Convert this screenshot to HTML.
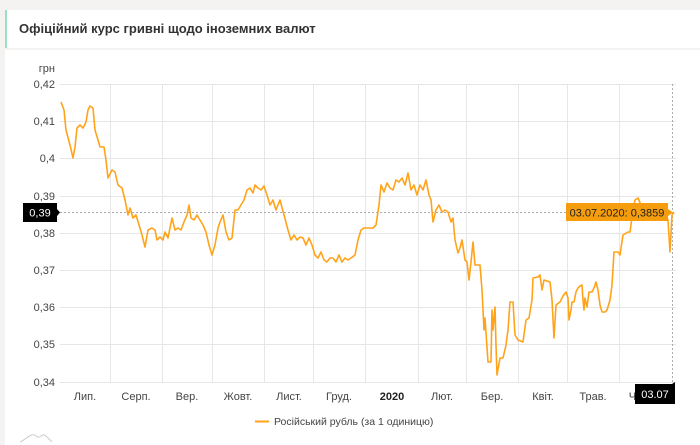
<!DOCTYPE html>
<html><head><meta charset="utf-8"><style>
body{margin:0;width:700px;height:445px;background:#f4f3f2;font-family:"Liberation Sans",sans-serif;overflow:hidden;position:relative}
.hdr{position:absolute;left:5px;top:10px;width:695px;height:38px;background:#fff;border-left:2px solid #9edcc4;box-sizing:border-box}
.hdr span{position:absolute;left:12px;top:11px;font-size:13px;font-weight:bold;color:#333}
.panel{position:absolute;left:5px;top:50px;width:695px;height:395px;background:#fff}
</style></head><body>
<div class="hdr"><span>Офіційний курс гривні щодо іноземних валют</span></div>
<div class="panel"></div>
<svg width="700" height="445" style="position:absolute;left:0;top:0" font-family="Liberation Sans, sans-serif">
<g stroke="#e6e6e6" stroke-width="1">
<line x1="60" x2="676" y1="84.5" y2="84.5"/><line x1="60" x2="676" y1="121.5" y2="121.5"/><line x1="60" x2="676" y1="158.5" y2="158.5"/><line x1="60" x2="676" y1="196.5" y2="196.5"/><line x1="60" x2="676" y1="233.5" y2="233.5"/><line x1="60" x2="676" y1="270.5" y2="270.5"/><line x1="60" x2="676" y1="307.5" y2="307.5"/><line x1="60" x2="676" y1="344.5" y2="344.5"/><line x1="60" x2="676" y1="382.5" y2="382.5"/>
<line x1="110.5" x2="110.5" y1="84" y2="382"/><line x1="162.5" x2="162.5" y1="84" y2="382"/><line x1="212.5" x2="212.5" y1="84" y2="382"/><line x1="264.5" x2="264.5" y1="84" y2="382"/><line x1="313.5" x2="313.5" y1="84" y2="382"/><line x1="365.5" x2="365.5" y1="84" y2="382"/><line x1="418.5" x2="418.5" y1="84" y2="382"/><line x1="466.5" x2="466.5" y1="84" y2="382"/><line x1="518.5" x2="518.5" y1="84" y2="382"/><line x1="567.5" x2="567.5" y1="84" y2="382"/><line x1="619.5" x2="619.5" y1="84" y2="382"/>
</g>
<g font-size="11" fill="#444" text-anchor="end">
<text x="55" y="72">грн</text>
<text x="55" y="88">0,42</text><text x="55" y="125">0,41</text><text x="55" y="162">0,4</text><text x="55" y="200">0,39</text><text x="55" y="237">0,38</text><text x="55" y="274">0,37</text><text x="55" y="311">0,36</text><text x="55" y="348">0,35</text><text x="55" y="386">0,34</text>
</g>
<g font-size="11" fill="#444" text-anchor="middle">
<text x="85" y="400">Лип.</text><text x="136" y="400">Серп.</text><text x="187" y="400">Вер.</text><text x="238" y="400">Жовт.</text><text x="289" y="400">Лист.</text><text x="339" y="400">Груд.</text><text x="392" y="400" font-weight="bold" fill="#222">2020</text><text x="442" y="400">Лют.</text><text x="492" y="400">Бер.</text><text x="543" y="400">Квіт.</text><text x="593" y="400">Трав.</text><text x="643" y="400">Черв.</text>
</g>
<line x1="60" x2="672" y1="212.5" y2="212.5" stroke="#aaa" stroke-dasharray="2,2"/>
<line x1="672.5" x2="672.5" y1="84" y2="384" stroke="#aaa" stroke-dasharray="2,2"/>
<polyline fill="none" stroke="#ffa31a" stroke-width="1.6" stroke-linejoin="round" points="61,102 64,110 66,130 70,145 73,158 75,147 77,128 80,125 83,128 86,122 88,110 90,106 93,108 95,130 98,140 100,147 104,147 106,160 108,178 112,170 115,172 118,185 122,188 125,200 128,215 130,208 133,218 136,215 139,225 142,235 145,247 148,230 152,228 155,230 157,240 160,237 163,240 165,232 168,238 170,228 172,218 175,230 178,228 181,230 184,222 187,215 189,205 191,218 194,220 197,215 200,220 203,225 206,232 209,245 212,255 215,245 218,228 220,222 223,215 226,232 229,240 232,238 235,210 238,210 241,205 244,200 247,190 250,188 253,193 255,185 258,188 261,190 264,186 267,195 270,205 273,200 276,210 280,200 284,215 288,230 291,240 294,235 297,240 300,237 303,238 306,245 309,238 312,245 315,255 318,258 321,252 324,260 327,262 330,258 333,258 336,262 339,255 342,262 345,258 348,260 351,258 355,255 358,240 361,230 364,228 367,228 370,228 373,228 376,225 379,205 381,185 384,192 387,183 390,188 393,190 396,180 399,182 402,178 405,185 408,173 411,190 414,185 417,195 420,185 423,190 426,180 429,195 431,200 433,222 436,210 439,205 442,212 445,210 448,212 451,222 453,218 455,240 458,253 460,248 462,240 465,260 467,262 469,280 471,262 473,242 475,265 480,265 482,290 484,330 485,318 486,333 488,362 491,362 492,310 493,330 495,307 496,345 497,375 500,358 503,358 506,345 508,330 510,302 513,302 515,335 518,340 523,342 526,320 529,318 532,300 533,278 538,277 540,275 542,290 544,280 550,282 552,300 554,338 556,305 560,302 563,296 566,292 568,298 569,320 571,310 572,302 574,302 576,292 578,288 580,286 582,285 583,300 584,310 585,298 587,307 589,292 592,292 594,288 596,282 598,290 600,305 602,312 605,312 607,310 610,300 612,285 614,252 618,252 620,255 623,235 628,232 630,232 633,210 635,200 638,198 641,205 645,212 650,215 655,212 660,212 665,212 668,220 670,252 672,215 674,212"/>
<path d="M23,203 H57 V209 L60,212.5 L57,216 V222 H23 Z" fill="#000"/>
<text x="40" y="216.5" font-size="11" fill="#fff" text-anchor="middle">0,39</text>
<path d="M566,203 H668 V209 L673,212.5 L668,216 V221 H566 Z" fill="#f59d0c"/>
<text x="617" y="216.5" font-size="11" fill="#222" text-anchor="middle">03.07.2020: 0,3859</text>
<path d="M635,384 H672 L675,382 V404 H635 Z" fill="#000"/>
<text x="655" y="398" font-size="11" fill="#fff" text-anchor="middle">03.07</text>
<line x1="255" x2="269" y1="421.5" y2="421.5" stroke="#ffa31a" stroke-width="2"/>
<text x="274" y="425" font-size="10.5" fill="#444">Російський рубль (за 1 одиницю)</text>
<path d="M20,442 C28,438 32,432 36,436 C40,440 42,432 46,436 L52,442" fill="none" stroke="#ccc"/>
</svg>
</body></html>
